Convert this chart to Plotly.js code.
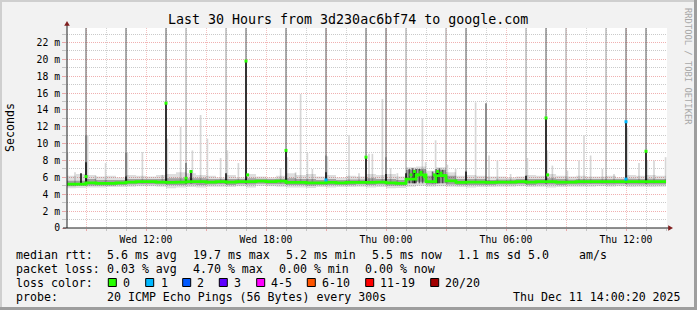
<!DOCTYPE html>
<html><head><meta charset="utf-8">
<script src="https://cdn.plot.ly/plotly-3.0.1.min.js"></script>
<style>html,body{margin:0;padding:0;background:#f2f2f2;overflow:hidden}#chart{width:697px;height:310px}</style>
</head><body><div id="chart"></div>
<script>
// ---------------- DATA (values in ms, times in hours since Wed 10 Dec 2025 00:00) ----------------
const seriesStartHour = 8;      // first 30-minute sample: Wed 08:00
const seriesStepHours = 0.5;
const medianRtt = [5.2,5.2,5.35,5.3,5.3,5.35,5.45,5.5,5.5,5.45,5.4,5.45,5.5,5.5,5.45,5.5,5.45,5.5,5.5,5.55,5.5,5.55,5.4,5.4,5.35,5.35,5.4,5.35,5.4,5.4,5.4,5.45,
  5.35,5.3,5.8,6.3,5.5,6.2,5.6,5.4,5.45,5.45,5.4,5.45,5.45,5.5,5.45,5.5,5.5,5.45,5.45,5.5,5.5,5.5,5.5,5.5,5.5,5.5,5.5,5.5,5.5];
const smokeLow  = [4.7,4.75,4.8,4.8,4.85,4.85,4.9,4.95,4.95,4.9,4.7,4.8,4.85,4.8,4.9,4.9,4.85,4.95,4.8,5.0,4.95,4.9,4.8,4.8,4.75,4.85,4.8,4.85,4.85,4.9,4.8,4.85,
  4.7,4.75,4.9,5.0,4.9,4.95,4.9,4.85,4.8,4.85,4.85,4.9,4.9,4.95,4.85,4.9,4.8,4.85,4.9,4.9,4.9,4.95,4.9,4.95,4.85,4.9,4.85,4.9,4.9];
const smokeHigh = [6.2,6.4,6.3,6.1,6.2,6.0,6.3,6.2,6.1,6.3,6.4,6.6,6.5,6.3,6.2,6.0,6.3,6.0,6.4,6.1,6.0,6.2,6.5,6.3,6.4,6.1,6.3,6.0,6.2,6.1,6.4,6.3,
  6.4,6.1,7.2,7.3,6.8,7.2,6.6,6.2,6.3,6.2,6.1,6.1,6.0,6.1,6.3,6.2,6.4,6.2,6.1,6.2,6.1,6.1,6.2,6.0,6.3,6.2,6.3,6.2,6.1];
const coreLow   = [4.95,5.0,5.05,5.05,5.05,5.1,5.15,5.2,5.2,5.15,5.1,5.1,5.15,5.1,5.15,5.2,5.1,5.2,5.15,5.25,5.2,5.2,5.1,5.1,5.05,5.1,5.1,5.1,5.1,5.15,5.1,5.15,
  5.05,5.05,5.3,5.5,5.15,5.3,5.15,5.1,5.1,5.1,5.1,5.15,5.15,5.2,5.1,5.15,5.15,5.1,5.15,5.15,5.2,5.2,5.15,5.2,5.15,5.15,5.15,5.15,5.15];
const coreHigh  = [5.6,5.6,5.8,5.7,5.7,5.7,5.8,5.8,5.8,5.8,5.9,5.9,5.9,5.9,5.8,5.8,5.8,5.8,5.9,5.85,5.8,5.85,5.9,5.8,5.8,5.7,5.8,5.7,5.75,5.75,5.9,5.8,
  5.8,5.7,6.9,7.0,6.2,6.9,6.2,5.8,5.8,5.8,5.7,5.75,5.75,5.8,5.8,5.8,5.9,5.8,5.75,5.8,5.8,5.8,5.8,5.8,5.85,5.8,5.85,5.8,5.8];

const smokeBase = 5.3;  // bottom of the spike columns (ms)

// spikes whose maximum ping is off the scale (dark and pale outer smoke)
const darkSpikeHours = [9,11,13,17,19,21,23,24,28,32,36,37];
const darkSpikeMax   = [30,30,30,30,30,30,30,30,30,30,30,30];
const paleSpikeHours = [14,16,25,27,31,33,35];
const paleSpikeMax   = [30,30,30,30,30,30,30];
// light smoke spikes
const lightHours = [8.07,8.45,9.08,9.48,9.98,11.07,11.82,12.82,13.07,13.73,14.32,14.73,15.07,15.73,16.07,16.62,18.73,19.07,19.48,19.73,20.07,20.32,21.07,22.15,22.65,23.15,23.32,23.82,
  24.23,24.57,25.82,25.98,26.48,27.07,27.48,28.48,29.15,29.57,30.23,31.07,32.07,32.32,33.07,33.65,33.9,34.23,34.82,35.4,36.07,36.65,37.07,37.4,37.98];
const lightTop   = [9.0,6.6,11.0,6.2,7.7,8.9,9.0,6.3,10.6,12.0,9.2,13.4,10.6,8.3,9.2,7.7,7.1,8.4,6.6,15.9,8.9,7.0,8.5,11.0,6.5,8.8,8.8,15.3,
  7.1,6.5,13.0,7.8,10.4,7.5,7.0,14.9,8.6,8.0,6.4,8.3,9.2,7.4,6.8,8.0,11.0,8.6,7.0,6.4,11.9,7.7,8.0,8.0,8.4];
// medium smoke
const midHours = [9,11,14,21,24,29,25.17,25.33,25.5,25.67,25.83,26.33,26.5,26.67,26.83];
const midTop   = [11.0,8.9,7.7,8.6,8.4,14.8,7.0,7.1,7.0,7.0,6.8,6.7,7.0,7.1,6.9];
// dense (dark) smoke
const denseHours = [8.75,9,11,13,14,14.25,16,17,19,21,23,24,25,25.42,26.58,28,31,32,36,37];
const denseTop   = [6.5,7.8,6.1,14.8,6.0,6.7,6.5,19.8,9.2,6.6,8.4,6.4,6.5,6.6,6.7,6.7,6.2,13.05,12.6,9.1];
// median samples at spikes (loss 0 = green, loss 1 = blue)
const medSpikeHours = [9,13,14,14.25,17,17.08,19,23,25.25,25.42,25.58,25.75,25.92,26.42,26.58,26.75,26.92,32,32.08,37];
const medSpikeVals  = [6.1,14.8,5.9,6.7,19.8,6.3,9.2,8.4,6.3,6.7,6.3,6.6,6.1,6.3,6.7,6.5,6.2,13.05,6.3,9.1];
const loss1Hours = [21,36,36];
const loss1Vals  = [5.7,12.6,5.8];

// axis ticks
const xTickHours = [9,12,15,18,21,24,27,30,33,36];
const xTickText  = ['','Wed 12:00','','Wed 18:00','','Thu 00:00','','Thu 06:00','','Thu 12:00'];
const yTickVals  = [0,2,4,6,8,10,12,14,16,18,20,22];
const yTickText  = ['0','2 m','4 m','6 m','8 m','10 m','12 m','14 m','16 m','18 m','20 m','22 m'];
const xRangeHours = [8.05, 38.05];
const yRange = [0, 23.72];

// texts
const titleText = 'Last 30 Hours from 3d230ac6bf74 to google.com';
const yTitle = 'Seconds';
const watermark = 'RRDTOOL / TOBI OETIKER';
const rttItems  = ['median rtt:','5.6 ms avg','19.7 ms max','5.2 ms min','5.5 ms now','1.1 ms sd','5.0','am/s'];
const lossItems = ['packet loss:','0.03 % avg','4.70 % max','0.00 % min','0.00 % now'];
const lossLabel = 'loss color:';
const lossCats  = ['0','1','2','3','4-5','6-10','11-19','20/20'];
const probeItems = ['probe:','20 ICMP Echo Pings (56 Bytes) every 300s'];
const stampText = 'Thu Dec 11 14:00:20 2025';

// ---------------- STYLE / LAYOUT ----------------
const LOSS_COLORS = ['#26ff00','#00b8ff','#0059ff','#5e00ff','#ff00ff','#ff5500','#ff0000','#a10000'];
const MONO = 'DejaVu Sans Mono, monospace';
const PL = 67, PT = 28, PW = 600, PH = 200;
const fx = x => (x - PL) / PW;
const fy = y => (PT + PH - y) / PH;
function hd(h){ const d = new Date(Date.UTC(2025,11,10) + Math.round(h*3600000)); return d.toISOString().replace('T',' ').slice(0,19); }
const seriesX = medianRtt.map((_, i) => hd(seriesStartHour + i*seriesStepHours));

// minor grid positions: every hour / every 1 ms that is not a major position
const minorXHours = [];
for (let h = 8; h <= 38; h++) if (h % 3 !== 0) minorXHours.push(h);
const minorY = [];
for (let v = 1; v <= 23; v += 2) minorY.push(v);

const traces = [];
function band(lo, hi, color){
  traces.push({x: seriesX, y: lo, type:'scatter', mode:'lines', line:{width:0, shape:'hv'}, hoverinfo:'skip'});
  traces.push({x: seriesX, y: hi, type:'scatter', mode:'lines', line:{width:0, shape:'hv'}, fill:'tonexty', fillcolor: color, hoverinfo:'skip'});
}
function bars(hours, tops, color, widthMin){
  traces.push({type:'bar', x: hours.map(hd), y: tops.map(t => t - smokeBase), base: smokeBase,
    width: widthMin*60000, marker:{color: color, line:{width:0}}, hoverinfo:'skip'});
}
bars(lightHours, lightTop, '#d6d6d6', 5);
bars(paleSpikeHours, paleSpikeMax, '#9c9c9c', 3);
bars(darkSpikeHours, darkSpikeMax, '#5c5c5c', 3);
bars(midHours, midTop, '#7a7a7a', 5);
bars(denseHours, denseTop, '#1c1c1c', 5);
band(smokeLow, smokeHigh, 'rgba(0,0,0,0.13)');
band(coreLow, coreHigh, 'rgba(0,0,0,0.28)');
traces.push({x: seriesX, y: medianRtt, type:'scatter', mode:'lines', line:{color: LOSS_COLORS[0], width:2.8, shape:'hv'}, hoverinfo:'skip'});
traces.push({x: medSpikeHours.map(hd), y: medSpikeVals, type:'scatter', mode:'markers', marker:{symbol:'square', size:3, color: LOSS_COLORS[0], line:{width:0}}, hoverinfo:'skip'});
traces.push({x: loss1Hours.map(hd), y: loss1Vals, type:'scatter', mode:'markers', marker:{symbol:'square', size:3, color: LOSS_COLORS[1], line:{width:0}}, hoverinfo:'skip'});

const GRID = 'rgba(150,150,150,0.5)';
const MGRID = 'rgba(222,79,79,0.45)';
const XGRID = 'rgba(150,150,150,0.42)';
const XMGRID = 'rgba(222,79,79,0.36)';
const ann = [];
function txt(text, x, y, opt){
  ann.push(Object.assign({text: text, x: fx(x), y: fy(y), xref:'paper', yref:'paper', xanchor:'left', yanchor:'middle',
    showarrow:false, borderpad:0, borderwidth:0, font:{family: MONO, size:11.6, color:'#000'}}, opt||{}));
}
txt(titleText, 347.8, 19, {xanchor:'center', font:{family:MONO, size:13.3, color:'#000'}});
txt(yTitle, 10, 128, {xanchor:'center', textangle:-90});
txt(watermark, 688, 66, {xanchor:'center', textangle:90, font:{family:MONO, size:8.8, color:'#a8a8a8'}});
const rttX = [16,107,193.3,286,372.3,458.3,528.3,579.3];
rttItems.forEach((t,i) => txt(t, rttX[i], 254.5));
const lossX = [16,107,193.3,279.3,365.3];
lossItems.forEach((t,i) => txt(t, lossX[i], 268.5));
txt(lossLabel, 16, 282.5);
const boxX = [108.3,145.7,182.7,219.3,256.7,307.3,365.7,430.7];
const labX = [123.3,160.7,197.3,234.3,271,321.7,380,445.3];
const shapes = [];
lossCats.forEach((t,i) => {
  txt(t, labX[i], 282.5);
  shapes.push({type:'rect', xref:'paper', yref:'paper', x0: fx(boxX[i]), x1: fx(boxX[i]+8), y0: fy(286.5), y1: fy(278.5),
    fillcolor: LOSS_COLORS[i], line:{color:'#000', width:1}});
});
txt(probeItems[0], 16, 296.5);
txt(probeItems[1], 107, 296.5);
txt(stampText, 681, 296.5, {xanchor:'right'});

// frame (3D border)
shapes.push({type:'rect', xref:'paper', yref:'paper', x0: fx(0), x1: fx(697), y0: fy(0), y1: fy(2), fillcolor:'#cfcfcf', line:{width:0}});
shapes.push({type:'rect', xref:'paper', yref:'paper', x0: fx(0), x1: fx(2), y0: fy(0), y1: fy(310), fillcolor:'#cfcfcf', line:{width:0}});
shapes.push({type:'rect', xref:'paper', yref:'paper', x0: fx(0), x1: fx(697), y0: fy(307), y1: fy(310), fillcolor:'#9e9e9e', line:{width:0}});
shapes.push({type:'rect', xref:'paper', yref:'paper', x0: fx(694), x1: fx(697), y0: fy(0), y1: fy(310), fillcolor:'#9e9e9e', line:{width:0}});
// axis extensions + arrows
shapes.push({type:'line', xref:'paper', yref:'paper', x0: fx(63), x1: fx(669), y0: fy(228), y1: fy(228), line:{color:'#1f1f1f', width:1}});
shapes.push({type:'line', xref:'paper', yref:'paper', x0: fx(67), x1: fx(67), y0: fy(228), y1: fy(24), line:{color:'#1f1f1f', width:1}});
shapes.push({type:'path', xref:'paper', yref:'paper', path:`M ${fx(64.2)} ${fy(25.8)} L ${fx(69.8)} ${fy(25.8)} L ${fx(67)} ${fy(21)} Z`, fillcolor:'#801f1f', line:{width:0}});
shapes.push({type:'path', xref:'paper', yref:'paper', path:`M ${fx(668.2)} ${fy(225.2)} L ${fx(668.2)} ${fy(230.8)} L ${fx(673)} ${fy(228)} Z`, fillcolor:'#801f1f', line:{width:0}});

const layout = {
  width: 697, height: 310,
  margin: {l: PL, r: 697-PL-PW, t: PT, b: 310-PT-PH, pad: 0},
  paper_bgcolor: '#f2f2f2', plot_bgcolor: '#ffffff',
  showlegend: false, barmode: 'overlay', hovermode: false,
  font: {family: MONO, color: '#000'},
  xaxis: {type:'date', range: xRangeHours.map(hd), tickmode:'array', tickvals: xTickHours.map(hd), ticktext: xTickText,
    showgrid: true, gridcolor: XMGRID, griddash: '1px,1px', gridwidth: 1, zeroline: false,
    showline: false, ticks: 'outside', ticklen: 2, tickcolor: MGRID, tickfont: {family: MONO, size: 9.75, color:'#000'},
    minor: {tickmode:'array', tickvals: minorXHours.map(hd), showgrid: true, gridcolor: XGRID, griddash:'1px,1px', gridwidth:1,
      ticks:'outside', ticklen: 2, tickcolor: GRID},
    fixedrange: true},
  yaxis: {range: yRange, tickmode:'array', tickvals: yTickVals, ticktext: yTickText,
    showgrid: true, gridcolor: MGRID, griddash: '1px,1px', gridwidth: 1, zeroline: false, showline: false,
    ticks: 'outside', ticklen: 4, tickcolor: MGRID, tickfont: {family: MONO, size: 9.75, color:'#000'},
    minor: {tickmode:'array', tickvals: minorY, showgrid: true, gridcolor: GRID, griddash:'1px,1px', gridwidth:1,
      ticks:'outside', ticklen: 4, tickcolor: GRID},
    fixedrange: true},
  annotations: ann,
  shapes: shapes
};
Plotly.newPlot('chart', traces, layout, {staticPlot: true, displayModeBar: false});
</script>
</body></html>
